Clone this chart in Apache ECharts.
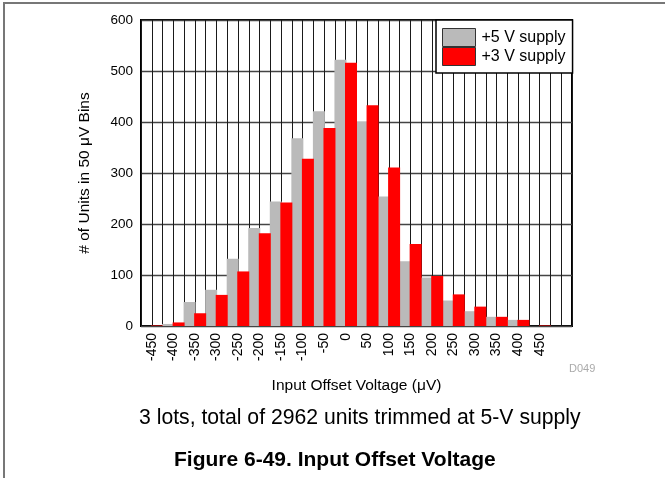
<!DOCTYPE html>
<html>
<head>
<meta charset="utf-8">
<script src="https://cdn.jsdelivr.net/npm/echarts@6/dist/echarts.min.js"></script>
<style>
  html, body { margin: 0; padding: 0; background: #fff; }
  #chart { width: 665px; height: 478px; }
</style>
</head>
<body>
<div id="chart"></div>
<script>
// Bin centers in µV (50 µV bins); the last, unlabeled bin pads the right edge
const bins = [-450, -400, -350, -300, -250, -200, -150, -100, -50, 0,
              50, 100, 150, 200, 250, 300, 350, 400, 450, 500];
// Unit counts per bin
const supply5V = [0, 4, 47, 71, 132, 192, 244, 368, 421, 522,
                  400, 254, 127, 95, 50, 29, 18, 12, 0, 0];
const supply3V = [1, 7, 25, 61, 107, 182, 242, 328, 388, 516,
                  433, 311, 161, 98, 62, 38, 18, 12, 1, 0];
const yTicks = { min: 0, max: 600, step: 100 };
const labeledRange = { min: -450, max: 450 };

const FONT = 'Liberation Sans, Arial, Helvetica, sans-serif';

const chart = echarts.init(document.getElementById('chart'), null, { renderer: 'canvas' });

chart.setOption({
  backgroundColor: '#fff',
  animation: false,
  textStyle: { fontFamily: FONT },
  grid: {
    left: 141, right: 93, top: 20, bottom: 152,
    show: true, borderColor: '#000', borderWidth: 2, backgroundColor: 'transparent'
  },
  legend: {
    orient: 'vertical',
    left: 436, top: 20,
    padding: [8, 7, 7, 6],
    itemGap: 0,
    itemWidth: 33, itemHeight: 18,
    icon: 'rect',
    backgroundColor: '#fff',
    borderColor: '#000', borderWidth: 1.5,
    itemStyle: { borderColor: '#333', borderWidth: 1 },
    textStyle: { fontSize: 16, color: '#000', fontFamily: FONT, padding: [0, 0, 0, 1] },
    data: ['+5 V supply', '+3 V supply']
  },
  xAxis: [
    {
      type: 'category',
      data: bins.map(String),
      boundaryGap: true,
      axisLine: { show: false },
      axisTick: { show: false },
      splitLine: { show: false },
      axisLabel: {
        rotate: 90, fontSize: 14, color: '#000', margin: 7, fontFamily: FONT,
        formatter: v => (+v >= labeledRange.min && +v <= labeledRange.max) ? v : ''
      },
      name: 'Input Offset Voltage (μV)',
      nameLocation: 'middle', nameGap: 52,
      nameTextStyle: { fontSize: 15.5, color: '#000', fontFamily: FONT }
    },
    {
      // 25 µV grid columns
      type: 'value',
      min: bins[0] - 25, max: bins[bins.length - 1] + 25, interval: 25,
      position: 'bottom',
      axisLine: { show: false }, axisTick: { show: false }, axisLabel: { show: false },
      splitLine: { show: true, lineStyle: { color: '#1a1a1a', width: 1 } }
    }
  ],
  yAxis: {
    type: 'value',
    min: yTicks.min, max: yTicks.max, interval: yTicks.step,
    axisLine: { show: false }, axisTick: { show: false },
    axisLabel: { fontSize: 13.5, color: '#000', margin: 8, fontFamily: FONT },
    splitLine: { show: true, lineStyle: { color: '#444', width: 1.4 } },
    name: '# of Units in 50 μV Bins',
    nameLocation: 'middle', nameRotate: 90, nameGap: 48,
    nameTextStyle: { fontSize: 15.5, color: '#000', fontFamily: FONT }
  },
  series: [
    {
      name: '+5 V supply', type: 'bar', xAxisIndex: 0,
      data: supply5V,
      barWidth: 12, barGap: '-12%',
      itemStyle: { color: '#bababa' }
    },
    {
      name: '+3 V supply', type: 'bar', xAxisIndex: 0,
      data: supply3V,
      barWidth: 12, barGap: '-12%',
      itemStyle: { color: '#ff0000' }
    }
  ],
  graphic: [
    { type: 'line', shape: { x1: 4, y1: 3, x2: 4, y2: 478 }, style: { stroke: '#777', lineWidth: 2 } },
    { type: 'line', shape: { x1: 3, y1: 3, x2: 665, y2: 3 }, style: { stroke: '#777', lineWidth: 2 } },
    { type: 'text', left: 569, top: 363, style: { text: 'D049', fontSize: 11, fill: '#aaa', fontFamily: FONT } },
    { type: 'text', left: 139, top: 408, style: { text: '3 lots, total of 2962 units trimmed at 5-V supply', fontSize: 21.2, fill: '#000', fontFamily: FONT } },
    { type: 'text', left: 174, top: 450, style: { text: 'Figure 6-49. Input Offset Voltage', fontSize: 21, fontWeight: 'bold', fill: '#000', fontFamily: FONT } }
  ]
});
</script>
</body>
</html>
